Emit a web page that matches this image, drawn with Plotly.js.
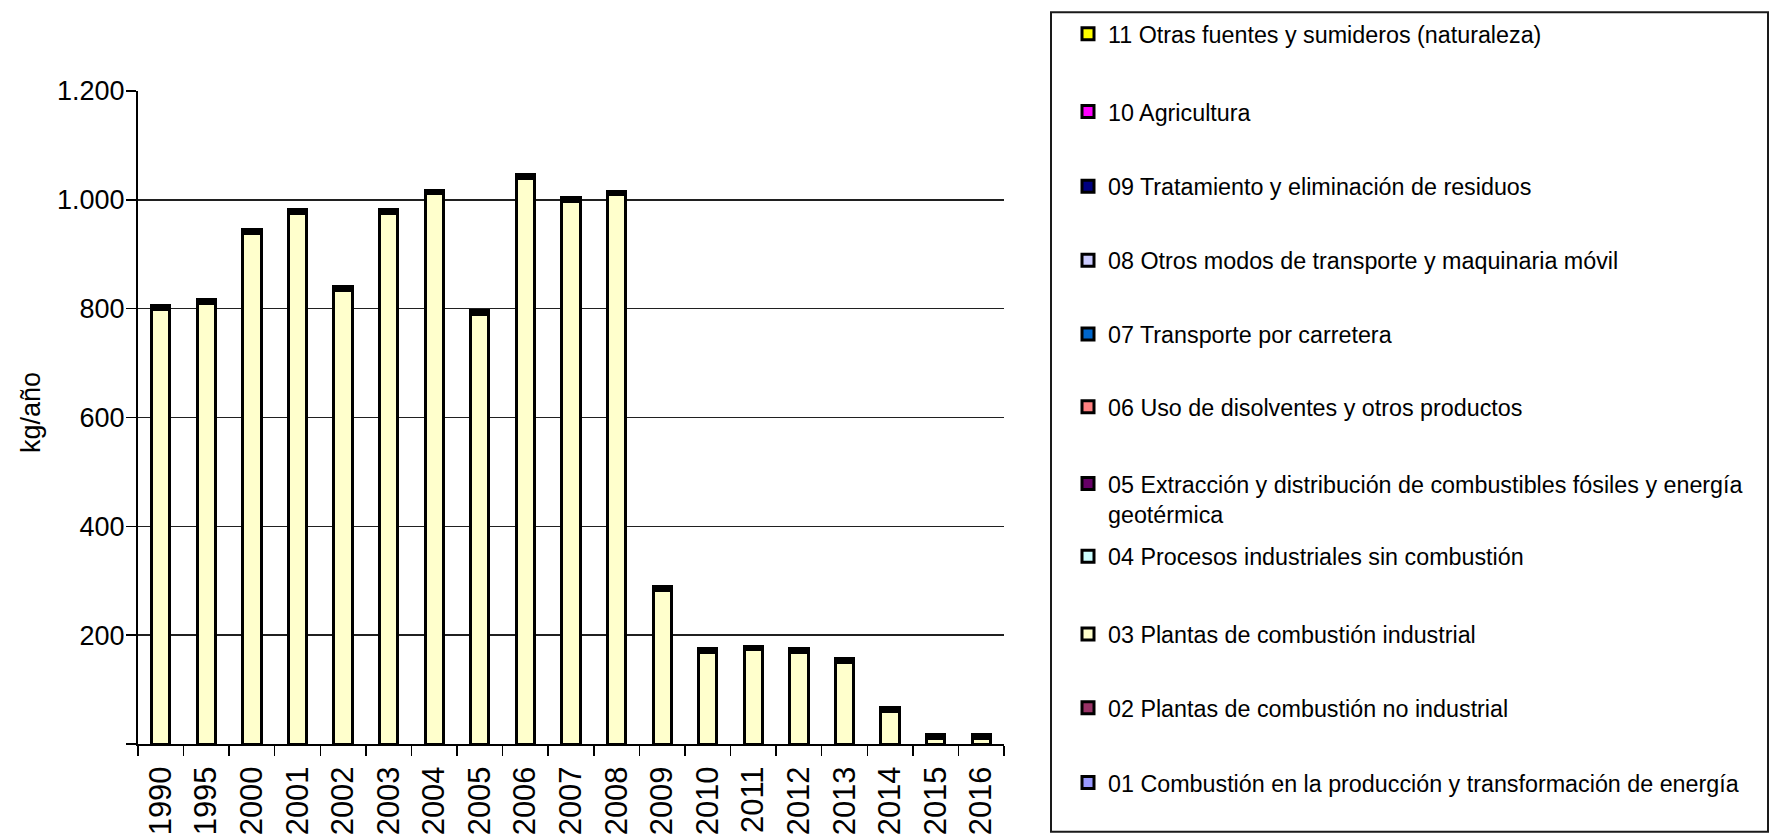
<!DOCTYPE html>
<html>
<head>
<meta charset="utf-8">
<script src="https://cdn.plot.ly/plotly-3.0.1.min.js"></script>
<style>
html,body{margin:0;padding:0;background:#fff;}
#chart{width:1774px;height:839px;}
</style>
</head>
<body>
<div id="chart"></div>
<script>
// ---- data ----
const years = ['1990','1995','2000','2001','2002','2003','2004','2005','2006','2007','2008','2009','2010','2011','2012','2013','2014','2015','2016'];
const s01 = [0,0,0,0,0,0,0,0,0,0,0,0,0,0,0,0,0,0,0];
const s02 = [0,0,0,0,0,0,0,0,0,0,0,0,0,0,0,0,0,0,0];
const s03 = [799,810,938,975,834,975,1011,790,1040,997,1009,283,168,173,168,150,60,11,11];
const s04 = [0,0,0,0,0,0,0,0,0,0,0,0,0,0,0,0,0,0,0];
const s05 = [3,3,3,3,3,3,3,3,3,3,3,3,3,3,3,3,3,2,2];
const s06 = [0,0,0,0,0,0,0,0,0,0,0,0,0,0,0,0,0,0,0];
const s07 = [0,0,0,0,0,0,0,0,0,0,0,0,0,0,0,0,0,0,0];
const s08 = [0,0,0,0,0,0,0,0,0,0,0,0,0,0,0,0,0,0,0];
const s09 = [4,4,4,4,4,4,4,4,4,4,4,4,4,4,4,4,4,4,4];
const s10 = [0,0,0,0,0,0,0,0,0,0,0,0,0,0,0,0,0,0,0];
const s11 = [0,0,0,0,0,0,0,0,0,0,0,0,0,0,0,0,0,0,0];
const seriesNames = [
  '01 Combustión en la producción y transformación de energía',
  '02 Plantas de combustión no industrial',
  '03 Plantas de combustión industrial',
  '04 Procesos industriales sin combustión',
  '05 Extracción y distribución de combustibles fósiles y energía<br>geotérmica',
  '06 Uso de disolventes y otros productos',
  '07 Transporte por carretera',
  '08 Otros modos de transporte y maquinaria móvil',
  '09 Tratamiento y eliminación de residuos',
  '10 Agricultura',
  '11 Otras fuentes y sumideros (naturaleza)'
];
const seriesValues = [s01,s02,s03,s04,s05,s06,s07,s08,s09,s10,s11];
const seriesColors = ['#9999FF','#993366','#FFFFCC','#CCFFFF','#660066','#FF8080','#0066CC','#CCCCFF','#000080','#FF00FF','#FFFF00'];
const yTickVals = [0,200,400,600,800,1000,1200];
const yTickText = ['','200','400','600','800','1.000','1.200'];
const yTitle = 'kg/año';

// ---- layout geometry (pixels) ----
const W = 1774, H = 839;
const L = 138, R = 1004, T = 89, B = 744;
const pw = R - L, ph = B - T;
const px2x = p => (p - L) / pw;
const py2y = p => (B - p) / ph;

// legend entry vertical centres (px), top to bottom: 11 .. 01
const legendCentres = [32, 110, 185, 259, 333, 406, 483, 556, 634, 708, 783];

const FONT = '"Liberation Sans", Arial, sans-serif';

const traces = seriesValues.map((vals, i) => ({
  type: 'bar',
  name: seriesNames[i],
  x: years,
  y: vals,
  marker: {color: seriesColors[i], line: {color: '#000000', width: 3}},
  legend: i === 0 ? 'legend' : 'legend' + (i + 1),
  hoverinfo: 'x+y+name'
}));

const layout = {
  width: W, height: H,
  margin: {l: L, r: W - R, t: T, b: H - B, pad: 0},
  paper_bgcolor: '#ffffff',
  plot_bgcolor: '#ffffff',
  barmode: 'stack',
  bargap: 0.6,
  separators: ',.',
  font: {family: FONT, color: '#000000'},
  xaxis: {
    type: 'category',
    showline: true, linecolor: '#000000', linewidth: 2,
    ticks: 'outside', tickson: 'boundaries', ticklen: 10, tickwidth: 1.5, tickcolor: '#000000',
    tickangle: -90,
    ticklabelstandoff: 8,
    tickfont: {family: FONT, size: 31, color: '#000000'},
    showgrid: false, zeroline: false, fixedrange: true
  },
  yaxis: {
    range: [0, 1200],
    tickmode: 'array', tickvals: yTickVals, ticktext: yTickText,
    showline: true, linecolor: '#000000', linewidth: 2,
    ticks: 'outside', ticklen: 10, tickwidth: 1.5, tickcolor: '#000000',
    ticklabelstandoff: -4,
    tickfont: {family: FONT, size: 27, color: '#000000'},
    showgrid: true, gridcolor: '#202020', gridwidth: 1.5,
    zeroline: false, fixedrange: true
  },
  annotations: [{
    text: yTitle, textangle: -90,
    xref: 'paper', yref: 'paper',
    x: px2x(31), y: py2y(412), xanchor: 'center', yanchor: 'middle',
    showarrow: false, font: {family: FONT, size: 27, color: '#000000'}
  }],
  shapes: [{
    type: 'rect', xref: 'paper', yref: 'paper',
    x0: px2x(1051), x1: px2x(1768), y0: py2y(832), y1: py2y(10),
    line: {color: '#1a1a1a', width: 2}, fillcolor: 'rgba(0,0,0,0)'
  }],
  showlegend: true
};

// one legend per series so each entry sits at its own height
for (let i = 0; i < seriesNames.length; i++) {
  const key = i === 0 ? 'legend' : 'legend' + (i + 1);
  const rowFromTop = seriesNames.length - 1 - i;
  const isTwoLine = seriesNames[i].indexOf('<br>') >= 0;
  layout[key] = {
    x: px2x(1068),
    y: py2y(legendCentres[rowFromTop] - (isTwoLine ? 22 : 0)),
    xanchor: 'left',
    yanchor: isTwoLine ? 'top' : 'middle',
    valign: 'top',
    bgcolor: 'rgba(0,0,0,0)', borderwidth: 0,
    font: {family: FONT, size: 23.3, color: '#000000'},
    itemclick: false, itemdoubleclick: false
  };
}

Plotly.newPlot('chart', traces, layout, {displayModeBar: false, staticPlot: true});
</script>
</body>
</html>
